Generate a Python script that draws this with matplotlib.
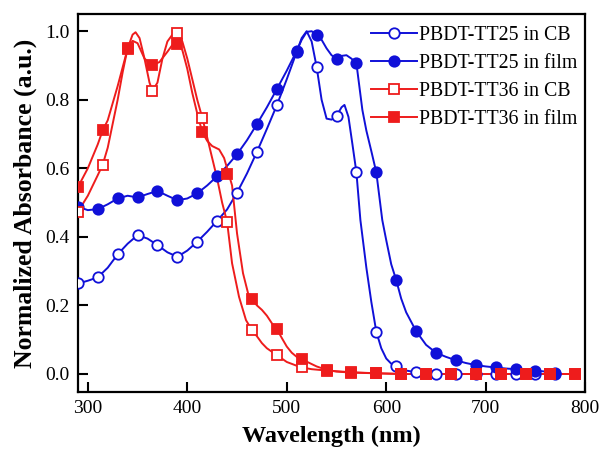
import matplotlib
matplotlib.use('Agg')
import matplotlib.pyplot as plt
from matplotlib.lines import Line2D

plt.rcParams['font.family'] = ['Liberation Serif', 'DejaVu Serif']

# PBDT-TT25 in CB (curve)
cb25_wl = [290, 300, 310, 320, 330, 340, 350, 360, 370, 380, 390, 400, 410, 420, 430, 440,
           450, 460, 470, 480, 490, 500, 510, 515, 520, 525, 530, 535, 540, 545, 550, 555,
           558, 562, 566, 570, 574, 580, 585, 590, 595, 600, 605, 610, 620, 630, 640, 650,
           700, 750, 770]
cb25_abs = [0.264, 0.272, 0.282, 0.31, 0.349, 0.38, 0.405, 0.395, 0.376, 0.355, 0.342, 0.36,
            0.386, 0.415, 0.447, 0.48, 0.529, 0.585, 0.648, 0.715, 0.784, 0.86, 0.94, 0.98,
            1.0, 0.97, 0.896, 0.80, 0.745, 0.742, 0.752, 0.778, 0.785, 0.75, 0.67, 0.588,
            0.449, 0.31, 0.21, 0.123, 0.075, 0.045, 0.03, 0.024, 0.01, 0.005, 0.002, 0.0,
            0.0, 0.0, 0.0]
cb25_mark_wl = [290, 310, 330, 350, 370, 390, 410, 430, 450, 470, 490, 510, 530, 550, 570,
                590, 610, 630, 650, 670, 690, 710, 730, 750, 770]
cb25_mark_abs = [0.264, 0.282, 0.349, 0.405, 0.376, 0.342, 0.386, 0.447, 0.529, 0.648, 0.784,
                 0.94, 0.896, 0.752, 0.588, 0.123, 0.024, 0.005, 0.0, 0.0, 0.0, 0.0, 0.0,
                 0.0, 0.0]

# PBDT-TT25 in film
film25_wl = [290, 300, 310, 320, 330, 340, 350, 360, 370, 380, 390, 400, 410, 420, 430, 440,
             450, 460, 470, 480, 490, 500, 510, 515, 520, 525, 530, 535, 540, 545, 550, 555,
             560, 565, 570, 576, 580, 585, 590, 596, 600, 605, 610, 615, 620, 630, 640, 650,
             660, 670, 680, 690, 700, 710, 720, 730, 740, 750, 760, 770]
film25_abs = [0.488, 0.478, 0.481, 0.495, 0.512, 0.52, 0.515, 0.525, 0.534, 0.52, 0.507,
              0.512, 0.527, 0.55, 0.577, 0.607, 0.641, 0.682, 0.729, 0.778, 0.831, 0.885,
              0.943, 0.975, 0.998, 1.0, 0.99, 0.975, 0.95, 0.93, 0.92, 0.928, 0.93, 0.92,
              0.906, 0.77, 0.71, 0.65, 0.588, 0.449, 0.39, 0.32, 0.274, 0.22, 0.18, 0.125,
              0.085, 0.062, 0.05, 0.040, 0.032, 0.026, 0.022, 0.019, 0.016, 0.014, 0.012,
              0.010, 0.007, 0.004]
film25_mark_wl = [290, 310, 330, 350, 370, 390, 410, 430, 450, 470, 490, 510, 530, 550, 570,
                  590, 610, 630, 650, 670, 690, 710, 730, 750, 770]
film25_mark_abs = [0.488, 0.481, 0.512, 0.515, 0.534, 0.507, 0.527, 0.577, 0.641, 0.729,
                   0.831, 0.943, 0.99, 0.92, 0.906, 0.588, 0.274, 0.125, 0.062, 0.040,
                   0.026, 0.019, 0.014, 0.010, 0.004]

# PBDT-TT36 in CB
cb36_wl = [290, 300, 310, 315, 320, 330, 335, 340, 345, 348, 352, 357, 362, 365, 370, 375,
           380, 385, 390, 395, 400, 405, 410, 415, 420, 425, 430, 435, 440, 445, 452, 459,
           465, 470, 475, 480, 490, 500, 510, 515, 525, 540, 565, 590, 615, 790]
cb36_abs = [0.473, 0.52, 0.58, 0.611, 0.66, 0.80, 0.88, 0.95, 0.99, 0.997, 0.98, 0.92, 0.85,
            0.826, 0.85, 0.92, 0.97, 0.99, 0.995, 0.97, 0.92, 0.86, 0.80, 0.748, 0.69, 0.63,
            0.57, 0.50, 0.444, 0.323, 0.225, 0.157, 0.128, 0.11, 0.09, 0.075, 0.055, 0.035,
            0.024, 0.019, 0.014, 0.010, 0.005, 0.002, 0.0, 0.0]
cb36_mark_wl = [290, 315, 340, 365, 390, 415, 440, 465, 490, 515, 540, 565, 590, 615, 640,
                665, 690, 715, 740, 765, 790]
cb36_mark_abs = [0.473, 0.611, 0.95, 0.826, 0.995, 0.748, 0.444, 0.128, 0.055, 0.019, 0.010,
                 0.005, 0.002, 0.0, 0.0, 0.0, 0.0, 0.0, 0.0, 0.0, 0.0]

# PBDT-TT36 in film
film36_wl = [290, 300, 310, 315, 320, 330, 340, 345, 350, 357, 365, 372, 380, 385, 390, 395,
             400, 405, 410, 415, 420, 425, 432, 437, 440, 445, 450, 456, 462, 465, 470, 475,
             480, 485, 490, 495, 500, 505, 510, 515, 520, 530, 540, 550, 565, 590, 615, 790]
film36_abs = [0.545, 0.60, 0.67, 0.711, 0.74, 0.84, 0.949, 0.972, 0.965, 0.92, 0.901, 0.91,
              0.94, 0.96, 0.962, 0.945, 0.89, 0.82, 0.76, 0.706, 0.68, 0.665, 0.655, 0.63,
              0.60, 0.55, 0.41, 0.294, 0.225, 0.218, 0.20, 0.187, 0.17, 0.148, 0.131, 0.105,
              0.08, 0.062, 0.05, 0.044, 0.036, 0.022, 0.012, 0.007, 0.004, 0.002, 0.0, 0.0]
film36_mark_wl = [290, 315, 340, 365, 390, 415, 440, 465, 490, 515, 540, 565, 590, 615, 640,
                  665, 690, 715, 740, 765, 790]
film36_mark_abs = [0.545, 0.711, 0.949, 0.901, 0.962, 0.706, 0.583, 0.218, 0.131, 0.044,
                   0.012, 0.004, 0.002, 0.0, 0.0, 0.0, 0.0, 0.0, 0.0, 0.0, 0.0]

blue = '#1010d8'
red = '#ee1c1c'

fig = plt.figure(figsize=(5.99, 4.54), dpi=100)
ax = fig.add_axes([0.130, 0.137, 0.847, 0.832])

series = [
    (cb25_wl, cb25_abs, cb25_mark_wl, cb25_mark_abs, blue, 'o', 'white', 'PBDT-TT25 in CB'),
    (film25_wl, film25_abs, film25_mark_wl, film25_mark_abs, blue, 'o', blue, 'PBDT-TT25 in film'),
    (cb36_wl, cb36_abs, cb36_mark_wl, cb36_mark_abs, red, 's', 'white', 'PBDT-TT36 in CB'),
    (film36_wl, film36_abs, film36_mark_wl, film36_mark_abs, red, 's', red, 'PBDT-TT36 in film'),
]

handles = []
for wl, ab, mwl, mab, col, mk, fc, lab in series:
    size = 7.5 if mk == 'o' else 6.8
    ax.plot(wl, ab, color=col, lw=1.4, zorder=2)
    ax.plot(mwl, mab, ls='none', marker=mk, ms=size,
            mfc=fc, mec=col, mew=1.3, zorder=3)
    handles.append(Line2D([], [], color=col, lw=1.4, marker=mk,
                          ms=size, mfc=fc, mec=col, mew=1.3, label=lab))

ax.set_xlim(290, 800)
ax.set_ylim(-0.052, 1.05)
ax.set_xticks([300, 400, 500, 600, 700, 800])
ax.set_yticks([0.0, 0.2, 0.4, 0.6, 0.8, 1.0])
ax.set_yticklabels(['0.0', '0.2', '0.4', '0.6', '0.8', '1.0'])
ax.tick_params(direction='in', length=7, width=1.5, labelsize=14, pad=6,
               top=False, right=False)
for s in ax.spines.values():
    s.set_linewidth(1.6)

ax.set_xlabel('Wavelength (nm)', fontsize=17.5, fontweight='bold', labelpad=6)
ax.set_ylabel('Normalized Absorbance (a.u.)', fontsize=18.5, fontweight='bold', labelpad=6)

ax.legend(handles=handles, loc='upper right', frameon=False, fontsize=14.3,
          handlelength=2.3, handletextpad=0.15, labelspacing=0.45,
          borderaxespad=0.2, bbox_to_anchor=(1.009, 1.0))

fig.savefig('out.png', dpi=100)
